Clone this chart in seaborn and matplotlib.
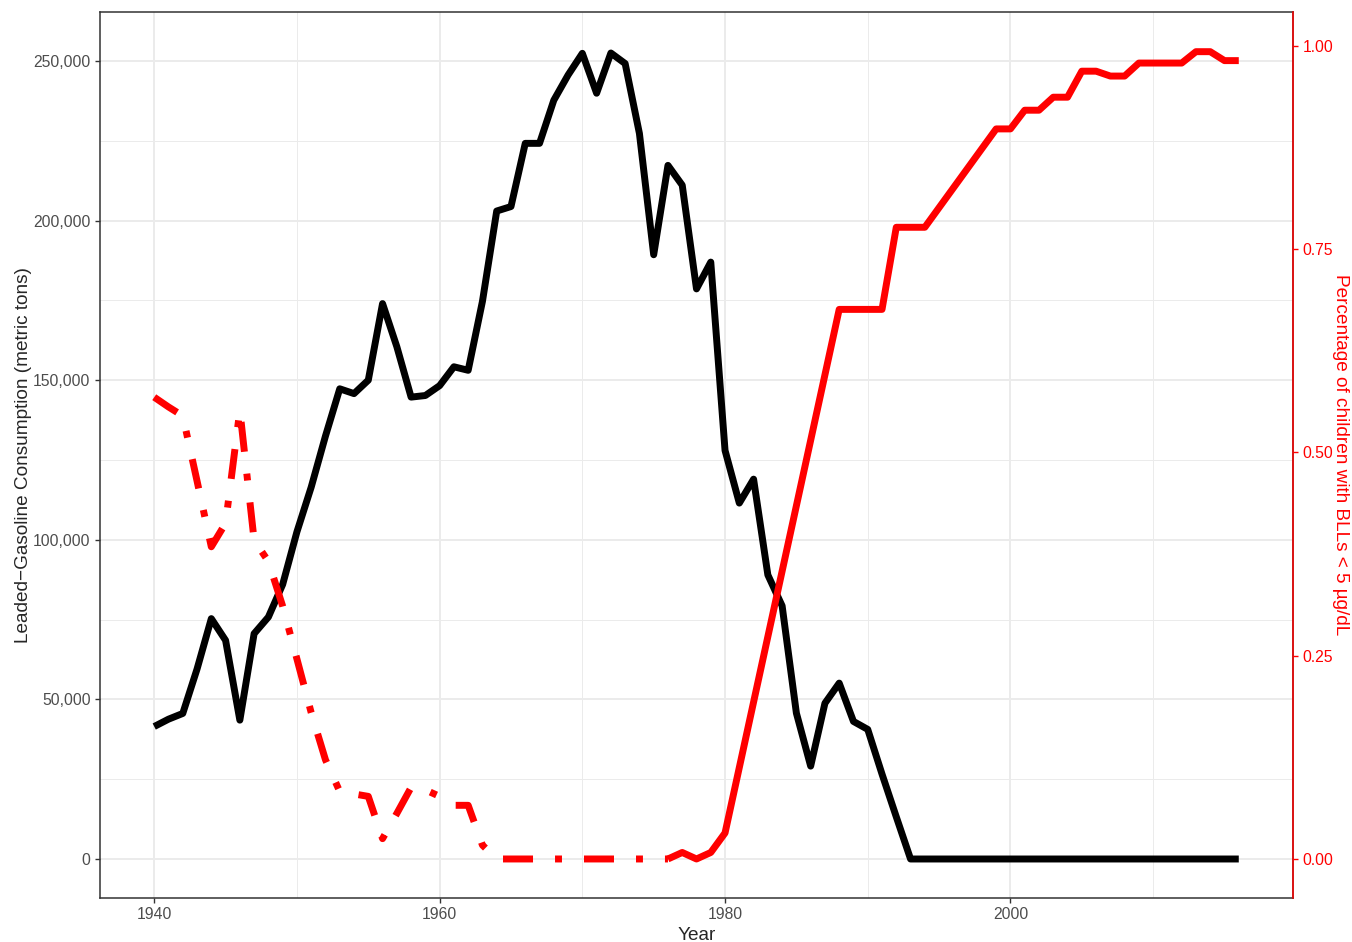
import matplotlib
matplotlib.use("Agg")
import matplotlib.pyplot as plt
from matplotlib.ticker import FuncFormatter, MultipleLocator
import numpy as np
import pandas as pd
import seaborn as sns

sns.set_style("white")
plt.rcParams['font.family'] = ['Liberation Sans', 'DejaVu Sans']

## --- leaded gasoline consumption, metric tons, one value per year
years = list(range(1940, 2017))
gas_tons = [41500, 43800, 45600, 59500, 75300, 68500, 43500, 70600, 75800, 86000,
            102500, 116500, 132500, 147300, 145800, 150000, 174000, 160500, 144700, 145200,
            148300, 154200, 153100, 174700, 203000, 204400, 224200, 224200, 237700, 245600,
            252400, 239900, 252500, 249200, 227300, 189300, 217300, 211100, 178600, 187000,
            128000, 111500, 119000, 89000, 79300, 45700, 29100, 48800, 55100, 43100,
            40600, 26600, 13200, 0, 0, 0, 0, 0, 0, 0,
            0, 0, 0, 0, 0, 0, 0, 0, 0, 0,
            0, 0, 0, 0, 0, 0, 0]

## --- share of children with BLLs < 5 ug/dL, estimated part (dashed)
bll_est_years = list(range(1940, 1977))
bll_est = [0.568, 0.556, 0.545, 0.465, 0.384, 0.413, 0.552, 0.392, 0.366, 0.311,
           0.246, 0.180, 0.122, 0.083, 0.080, 0.077, 0.025, 0.056, 0.088, 0.085,
           0.077, 0.066, 0.066, 0.017, 0.0, 0.0, 0.0, 0.0, 0.0, 0.0,
           0.0, 0.0, 0.0, 0.0, 0.0, 0.0, 0.0]

## --- measured part (solid)
bll_obs_years = [1976, 1977, 1978, 1979, 1980, 1988, 1991, 1992, 1994, 1999,
                 2000, 2001, 2002, 2003, 2004, 2005, 2006, 2007, 2008, 2009,
                 2010, 2011, 2012, 2013, 2014, 2015, 2016]
bll_obs = [0.0, 0.008, 0.0, 0.008, 0.032, 0.676, 0.676, 0.777, 0.777, 0.898,
           0.898, 0.921, 0.921, 0.937, 0.937, 0.969, 0.969, 0.963, 0.963, 0.979,
           0.979, 0.979, 0.979, 0.993, 0.993, 0.982, 0.982]

gas_df = pd.DataFrame({'year': years, 'tons': gas_tons})
est_df = pd.DataFrame({'year': bll_est_years, 'share': bll_est})
obs_df = pd.DataFrame({'year': bll_obs_years, 'share': bll_obs})

grey20 = '#333333'
grey30 = '#4D4D4D'
grid_col = '#EBEBEB'
lw = 5
dash_pat = (1.0, 3.17, 4.32, 3.17)  # dot, gap, dash, gap (in line widths)

fig = plt.figure(figsize=(13.52, 9.42), dpi=100)
ax = fig.add_axes([100 / 1352, 1 - 898 / 942, 1193 / 1352, 886 / 942])

sns.lineplot(data=gas_df, x='year', y='tons', ax=ax, color='black',
             linewidth=lw, estimator=None, solid_capstyle='butt',
             solid_joinstyle='round', zorder=3)

ax.set_xlim(1936.2, 2019.8)
ax.set_ylim(-12220, 265350)
ax.set_xticks([1940, 1960, 1980, 2000])
ax.xaxis.set_minor_locator(MultipleLocator(10))
ax.set_yticks([0, 50000, 100000, 150000, 200000, 250000])
ax.yaxis.set_minor_locator(MultipleLocator(25000))
ax.yaxis.set_major_formatter(FuncFormatter(lambda v, p: f'{int(v):,}'))
ax.grid(which='major', color=grid_col, linewidth=1.4)
ax.grid(which='minor', color=grid_col, linewidth=0.7)
ax.set_axisbelow(True)
ax.tick_params(which='major', length=3.8, width=1, color=grey20,
               labelcolor=grey30, labelsize=11.3, pad=3)
ax.tick_params(which='minor', length=0)
ax.tick_params(axis='x', bottom=True)
ax.tick_params(axis='y', left=True)
for s in ax.spines.values():
    s.set_color(grey20)
    s.set_linewidth(1.1)
ax.set_xlabel('Year', fontsize=13.7, labelpad=3)
ax.set_ylabel('Leaded\u2212Gasoline Consumption (metric tons)', fontsize=13.7,
              labelpad=1)

## --- second axis for the red series
ax2 = ax.twinx()
ax2.set_xlim(1936.2, 2019.8)
ax2.set_ylim(-0.048, 1.0418)

## --- shift the dash phase so a dash starts just after the curve reaches 0
px = lw * 100 / 72
pts = ax2.transData.transform(np.column_stack([bll_est_years, bll_est]))
i0 = bll_est.index(0.0)
seg = np.hypot(*np.diff(pts[:i0 + 1], axis=0).T).sum() + 6.3
period = sum(dash_pat) * px
dash_start = (dash_pat[0] + dash_pat[1]) * px
offset = ((dash_start - seg) % period) / px

sns.lineplot(data=est_df, x='year', y='share', ax=ax2, color='red',
             linewidth=lw, estimator=None, linestyle=(offset, dash_pat),
             dash_capstyle='butt', dash_joinstyle='round')
sns.lineplot(data=obs_df, x='year', y='share', ax=ax2, color='red',
             linewidth=lw, estimator=None, solid_capstyle='butt',
             solid_joinstyle='round')
ax2.set_xlim(1936.2, 2019.8)
ax2.set_ylim(-0.048, 1.0418)
ax2.set_yticks([0, 0.25, 0.5, 0.75, 1.0])
ax2.yaxis.set_major_formatter(FuncFormatter(lambda v, p: f'{v:.2f}'))
ax2.grid(False)
ax2.tick_params(axis='y', right=True, length=3.8, width=1, color='red',
                labelcolor='red', labelsize=11.3, pad=3)
for k, s in ax2.spines.items():
    s.set_visible(k == 'right')
ax2.spines['right'].set_color('red')
ax2.spines['right'].set_linewidth(1.1)
ax2.set_ylabel('Percentage of children with BLLs < 5 \u00b5g/dL', fontsize=13.7,
               color='red', rotation=270, labelpad=11.5)

fig.savefig('out.png', dpi=100)
